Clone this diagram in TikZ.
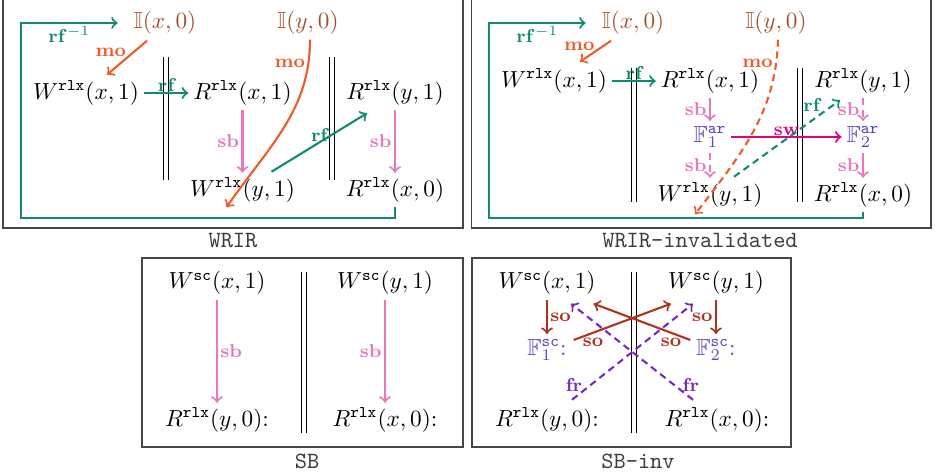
\documentclass[tikz,border=0pt]{standalone}
\usepackage{amssymb}
\usetikzlibrary{calc}
\definecolor{rfc}{RGB}{17,138,114}
\definecolor{moc}{RGB}{240,90,40}
\definecolor{sbc}{RGB}{232,120,190}
\definecolor{swc}{RGB}{225,0,130}
\definecolor{ic}{RGB}{160,82,45}
\definecolor{fc}{RGB}{95,70,190}
\definecolor{frc}{RGB}{120,40,190}
\definecolor{soc}{RGB}{175,50,30}
\definecolor{boxc}{RGB}{70,70,70}
\definecolor{capc}{RGB}{60,60,60}
\begin{document}
\begin{tikzpicture}[x=0.43pt,y=-0.43pt,
  ev/.style={inner sep=2pt},
  arr/.style={->, line width=0.9pt},
  lbl/.style={font=\footnotesize\bfseries, inner sep=1pt},
  dsh/.style={dash pattern=on 3pt off 2pt},
  sepl/.style={draw=black, double=white, double distance=1.3pt, line width=0.8pt},
  boxst/.style={draw=boxc, line width=0.8pt},
  capt/.style={font=\ttfamily, text=capc}]
\useasboundingbox (0,0) rectangle (938,475);
% ---------------- Panel 1: WRIR
\draw[boxst] (3,-5) rectangle (463,228);
\node[capt] (cap1) at (233,241) {WRIR};
\draw[sepl] (166,57) -- (166,180);
\draw[sepl] (332,57) -- (332,180);
\node[ev, text=ic] (p1ix) at (165,23) {$\mathbb{I}(x,0)$};
\node[ev, text=ic] (p1iy) at (308,23) {$\mathbb{I}(y,0)$};
\node[ev] (p1wx) at (86,93) {$W^{\mathtt{rlx}}(x,1)$};
\node[ev] (p1rx) at (242.5,93) {$R^{\mathtt{rlx}}(x,1)$};
\node[ev] (p1ry) at (395,93) {$R^{\mathtt{rlx}}(y,1)$};
\node[ev] (p1wy) at (242.5,190) {$W^{\mathtt{rlx}}(y,1)$};
\node[ev] (p1rx0) at (395,190) {$R^{\mathtt{rlx}}(x,0)$};
\draw[arr, rfc] (p1wx) -- node[lbl, above, inner sep=0pt]{rf} (p1rx);
\draw[arr, moc] ($(p1ix.south)+(-18,1)$) -- node[lbl, above left, inner sep=0pt]{mo} ($(p1wx.north)+(21,-1)$);
\draw[arr, moc] ($(p1iy.south)+(2,0)$) .. controls (310,110) and (270,145) .. node[lbl, pos=0.12, left]{mo} ($(p1wy.south)+(-16,0)$);
\draw[arr, sbc] (p1rx.south) -- node[lbl, left]{sb} (p1wy.north);
\draw[arr, sbc] (p1ry.south) -- node[lbl, left]{sb} (p1rx0.north);
\draw[arr, rfc] ($(p1wy.north)+(29,-1)$) -- node[lbl, above, inner sep=0pt]{rf} ($(p1ry.south)+(-28,3)$);
\draw[arr, rfc] (p1rx0.south) |- (21,218) |- node[lbl, pos=0.75, below]{$\mathbf{rf}^{-1}$} ($(p1ix.west)+(-11,0)$);
% ---------------- Panel 2: WRIR-invalidated
\draw[boxst] (471.5,-5) rectangle (931,228);
\node[capt] (cap2) at (700,241) {WRIR-invalidated};
\draw[sepl] (634,68) -- (634,202);
\draw[sepl] (800,68) -- (800,202);
\node[ev, text=ic] (p2ix) at (633,23) {$\mathbb{I}(x,0)$};
\node[ev, text=ic] (p2iy) at (776,23) {$\mathbb{I}(y,0)$};
\node[ev] (p2wx) at (554,81) {$W^{\mathtt{rlx}}(x,1)$};
\node[ev] (p2rx) at (710,81) {$R^{\mathtt{rlx}}(x,1)$};
\node[ev] (p2ry) at (863,81) {$R^{\mathtt{rlx}}(y,1)$};
\node[ev, text=fc] (p2f1) at (710,137) {$\mathbb{F}^{\mathtt{ar}}_1$};
\node[ev, text=fc] (p2f2) at (863,137) {$\mathbb{F}^{\mathtt{ar}}_2$};
\node[ev] (p2wy) at (710,195) {$W^{\mathtt{rlx}}(y,1)$};
\node[ev] (p2rx0) at (863,195) {$R^{\mathtt{rlx}}(x,0)$};
\draw[arr, rfc] (p2wx) -- node[lbl, above, inner sep=0pt]{rf} (p2rx);
\draw[arr, moc] ($(p2ix.south)+(-22,1)$) -- node[lbl, above left, inner sep=0pt]{mo} ($(p2wx.north)+(26,-2)$);
\draw[arr, rfc] (p2rx0.south) |- (489,218) |- node[lbl, pos=0.75, below]{$\mathbf{rf}^{-1}$} ($(p2ix.west)+(-11,0)$);
\draw[arr, sbc] (p2rx.south) -- node[lbl, left]{sb} (p2f1.north);
\draw[arr, sbc, dsh] (p2f1.south) -- node[lbl, left]{sb} (p2wy.north);
\draw[arr, sbc, dsh] (p2ry.south) -- node[lbl, left]{sb} (p2f2.north);
\draw[arr, sbc] (p2f2.south) -- node[lbl, left]{sb} (p2rx0.north);
\draw[arr, swc] (p2f1.east) -- node[lbl, above, inner sep=0pt]{sw} (p2f2.west);
\draw[arr, moc, dsh] ($(p2iy.south)+(2,0)$) .. controls (776,110) and (745,150) .. node[lbl, pos=0.12, left]{mo} ($(p2wy.south)+(-15,2)$);
\draw[arr, rfc, dsh] ($(p2wy.north)+(24,-1)$) -- node[lbl, pos=0.83, above left, inner sep=0.5pt]{rf} ($(p2ry.south)+(-23,2)$);
% ---------------- Panel 3: SB
\draw[boxst] (142,258) rectangle (463,447);
\node[capt] (cap3) at (307,461) {SB};
\draw[sepl] (304,272) -- (304,433);
\node[ev] (p3wx) at (217,283) {$W^{\mathtt{sc}}(x,1)$};
\node[ev] (p3wy) at (385,283) {$W^{\mathtt{sc}}(y,1)$};
\node[ev] (p3ry) at (217,420) {$R^{\mathtt{rlx}}(y,0)$:};
\node[ev] (p3rx) at (385,420) {$R^{\mathtt{rlx}}(x,0)$:};
\draw[arr, sbc] (p3wx.south) -- node[lbl, right]{sb} (p3wx.south |- p3ry.north);
\draw[arr, sbc] (p3wy.south) -- node[lbl, left]{sb} (p3wy.south |- p3rx.north);
% ---------------- Panel 4: SB-inv
\draw[boxst] (472,258) rectangle (791,447);
\node[capt] (cap4) at (638,461) {SB-inv};
\draw[sepl] (634,272) -- (634,433);
\node[ev] (p4wx) at (547,283) {$W^{\mathtt{sc}}(x,1)$};
\node[ev] (p4wy) at (716,283) {$W^{\mathtt{sc}}(y,1)$};
\node[ev, text=fc] (p4f1) at (547,350) {$\mathbb{F}^{\mathtt{sc}}_1$:};
\node[ev, text=fc] (p4f2) at (716,350) {$\mathbb{F}^{\mathtt{sc}}_2$:};
\node[ev] (p4ry) at (547,420) {$R^{\mathtt{rlx}}(y,0)$:};
\node[ev] (p4rx) at (717,420) {$R^{\mathtt{rlx}}(x,0)$:};
\draw[arr, soc] (p4wx.south) -- node[lbl, right]{so} (p4wx.south |- p4f1.north);
\draw[arr, soc] (p4wy.south) -- node[lbl, left]{so} (p4wy.south |- p4f2.north);
\draw[arr, soc] ($(p4f1.north east)+(2,6)$) -- node[lbl, pos=0.2, below, inner sep=2pt]{so} ($(p4wy.south west)+(8,4)$);
\draw[arr, soc] ($(p4f2.north west)+(-1,6)$) -- node[lbl, pos=0.2, below, inner sep=2pt]{so} ($(p4wx.south east)+(-7,4)$);
\draw[arr, frc, dsh] ($(p4ry.north)+(25,-3)$) -- node[lbl, pos=0.15, left, inner sep=3pt]{fr} ($(p4wy.south)+(-23,4)$);
\draw[arr, frc, dsh] ($(p4rx.north)+(-24,-3)$) -- node[lbl, pos=0.15, right, inner sep=3pt]{fr} ($(p4wx.south)+(24,4)$);
\end{tikzpicture}
\end{document}
